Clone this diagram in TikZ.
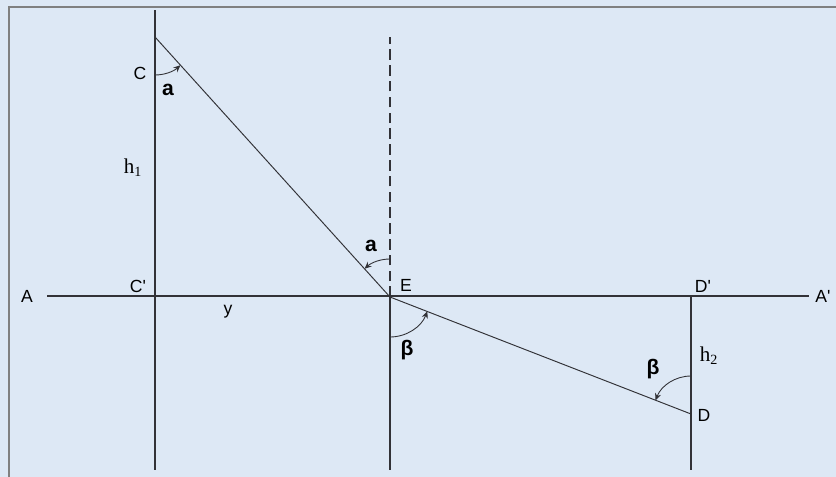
\documentclass[tikz,border=0pt]{standalone}
\usepackage{fontspec}
\setmainfont{Liberation Sans}
\newfontfamily\hfont{Liberation Serif}
\usetikzlibrary{calc, positioning, arrows.meta}

\definecolor{paper}{RGB}{221,232,245}
\definecolor{ink}{RGB}{50,50,55}

\begin{document}
\begin{tikzpicture}[x=0.02cm, y=-0.02cm, font=\fontsize{10}{11}\selectfont,
  axis/.style={draw=ink, line width=0.8pt},
  ray/.style={draw=ink, line width=0.55pt},
  anglearc/.style={draw=ink, line width=0.5pt, -{Stealth[length=4pt,width=3.5pt]}},
  angletext/.style={font=\fontsize{12}{13}\selectfont\bfseries}]
  \useasboundingbox[fill=paper] (0,0) rectangle (836,477);
  % frame
  \draw[gray, line width=1.2pt] (9,477) -- (9,7) -- (836,7);

  % points
  \coordinate (C) at (155,37);
  \coordinate (Cp) at (155,297);
  \coordinate (E) at (390,297);
  \coordinate (Dp) at (691,297);
  \coordinate (D) at (691,414);
  \coordinate (Ctop) at (155,10);
  \coordinate (Cbot) at (155,470);
  \coordinate (Etop) at (390,37);
  \coordinate (Ebot) at (390,470);
  \coordinate (Dbot) at (691,470);

  % axis A -- A'
  \node[inner sep=8pt] (lA) at (27,296) {A};
  \node (lAp) at (823,296) {A\textquotesingle};
  \draw[axis] (lA) -- (lAp);

  % verticals
  \draw[axis] (Ctop) -- (Cbot);
  \draw[axis] (E) -- (Ebot);
  \draw[axis] (Dp) -- (Dbot);
  \draw[axis, dashed, dash pattern=on 6pt off 3pt] (E) -- (Etop);

  % ray C -> E -> D
  \draw[ray] (C) -- (E) -- (D);

  % angles
  \draw[anglearc] ($(C)+(0,38)$) arc[start angle=90, end angle=48, radius=38];
  \draw[anglearc] ($(E)+(0,-38)$) arc[start angle=270, end angle=228, radius=38];
  \draw[anglearc] ($(E)+(0,40)$) arc[start angle=90, end angle=21, radius=40];
  \draw[anglearc] ($(D)+(0,-38)$) arc[start angle=270, end angle=201, radius=38];

  % labels
  \node (lC) at (140,73) {C};
  \node (lCp) at (138,286) {C\textquotesingle};
  \node (lE) at (406,285) {E};
  \node (lDp) at (703,286) {D\textquotesingle};
  \node (lD) at (704,415) {D};
  \node (ly) at (228,312) {y};
  \node (lh1) at (133,168) {\hfont\fontsize{12}{13}\selectfont h\textsubscript{1}};
  \node (lh2) at (709,356) {\hfont\fontsize{12}{13}\selectfont h\textsubscript{2}};
  \node[angletext] (la1) at (168,90) {a};
  \node[angletext] (la2) at (371,246) {a};
  \node[angletext] (lb1) at (407,350) {β};
  \node[angletext] (lb2) at (653,369) {β};
\end{tikzpicture}
\end{document}
